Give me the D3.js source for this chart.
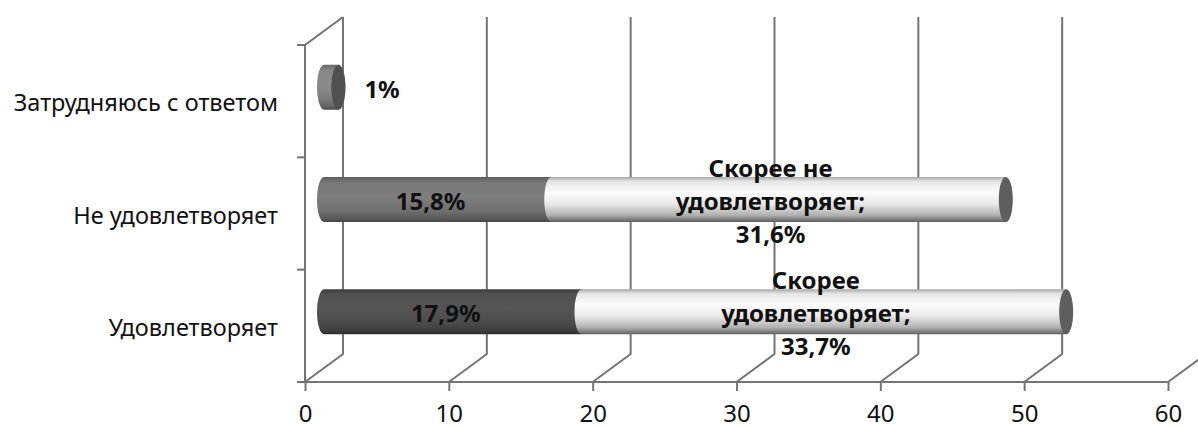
<!DOCTYPE html>
<html>
<head>
<meta charset="utf-8">
<script src="https://cdn.jsdelivr.net/npm/d3@7"></script>
<style>
  body { margin: 0; background: #fff; }
  svg { display: block; font-family: "Noto Sans", sans-serif; }
</style>
</head>
<body>
<svg id="chart"></svg>
<script>
// data, bottom to top
const categories = ["Удовлетворяет", "Не удовлетворяет", "Затрудняюсь с ответом"];
const firstValues = [17.9, 15.8, 1];
const secondValues = [33.7, 31.6, 0];
const firstLabels = ["17,9%", "15,8%", "1%"];
const secondLabels = [["Скорее", "удовлетворяет;", "33,7%"], ["Скорее не", "удовлетворяет;", "31,6%"], []];
const xTicks = [0, 10, 20, 30, 40, 50, 60];

const width = 1198;
const height = 428;
const depth = { dx: 38, dy: -28 };
const gridColor = "#747474";
const darkColors = ["#4b4b4b", "#6f6f6f", "#7c7c7c"];

const svg = d3.select("#chart")
    .attr("width", width)
    .attr("height", height);

const x = d3.scaleLinear().domain([0, 60]).range([305, 1168]);
const y = d3.scaleBand().domain(categories).range([382, 45]);

const defs = svg.append("defs");

function addGradient(id, base) {
    const c = d3.color(base);
    const g = defs.append("linearGradient").attr("id", id)
        .attr("x1", 0).attr("y1", 0).attr("x2", 0).attr("y2", 1);
    const stops = [
        [0, c.darker(0.5)],
        [0.12, c.brighter(0.2)],
        [0.45, c.brighter(0.35)],
        [0.75, c],
        [0.92, c.darker(0.6)],
        [1, c.darker(1.3)]
    ];
    stops.forEach(s => g.append("stop").attr("offset", s[0]).attr("stop-color", s[1]));
}
darkColors.forEach((c, i) => addGradient("dark" + i, c));

const lg = defs.append("linearGradient").attr("id", "light")
    .attr("x1", 0).attr("y1", 0).attr("x2", 0).attr("y2", 1);
[[0, "#a8a8a8"], [0.1, "#e6e6e6"], [0.35, "#fcfcfc"], [0.6, "#e8e8e8"], [0.85, "#b0b0b0"], [1, "#5e5e5e"]]
    .forEach(s => lg.append("stop").attr("offset", s[0]).attr("stop-color", s[1]));

// back grid lines with slanted floor
const grid = svg.append("g");
grid.selectAll("path")
    .data(xTicks)
    .enter().append("path")
    .attr("d", d => `M${x(d)},382 L${x(d) + depth.dx},${382 + depth.dy} L${x(d) + depth.dx},17`)
    .attr("fill", "none")
    .attr("stroke", gridColor)
    .attr("stroke-width", 2);

// left wall
grid.append("path")
    .attr("d", `M${x(0)},382 L${x(0)},45 L${x(0) + depth.dx},17`)
    .attr("fill", "none")
    .attr("stroke", gridColor)
    .attr("stroke-width", 2);

const bounds = categories.map(c => y(c)).concat([y(categories[0]) + y.bandwidth()]);
grid.selectAll("line.cat-tick")
    .data(bounds)
    .enter().append("line")
    .attr("class", "cat-tick")
    .attr("x1", x(0) - 8).attr("x2", x(0))
    .attr("y1", d => d).attr("y2", d => d)
    .attr("stroke", gridColor)
    .attr("stroke-width", 2);

// x axis
const xAxis = svg.append("g")
    .attr("transform", "translate(0,382)")
    .call(d3.axisBottom(x).tickValues(xTicks).tickSize(9).tickSizeOuter(0).tickPadding(14));
xAxis.select(".domain").attr("stroke", gridColor).attr("stroke-width", 2)
    .attr("d", `M${x(0) - 8},0H${x(60)}`);
xAxis.selectAll(".tick line").attr("stroke", gridColor).attr("stroke-width", 2);
xAxis.selectAll(".tick text")
    .attr("fill", "#111")
    .style("font-family", "Noto Sans")
    .style("font-size", "24px");

// category labels
svg.append("g").selectAll("text")
    .data(categories)
    .enter().append("text")
    .attr("x", 278)
    .attr("y", d => y(d) + y.bandwidth() / 2 + 4)
    .attr("text-anchor", "end")
    .attr("dominant-baseline", "middle")
    .attr("fill", "#111")
    .style("font-size", "23.5px")
    .text(d => d);

// cylinders
const ry = 22.5, rx = 7;
const xb = v => x(v) + depth.dx / 2;
function cylinder(a, b, cy) {
    return `M${a},${cy - ry} L${b},${cy - ry} A${rx},${ry} 0 0 1 ${b},${cy + ry} ` +
        `L${a},${cy + ry} A${rx},${ry} 0 0 1 ${a},${cy - ry} Z`;
}

const bars = svg.append("g");
categories.forEach((cat, i) => {
    const cy = y(cat) + y.bandwidth() / 2 + depth.dy / 2;
    const a = xb(0), b = xb(firstValues[i]), c = xb(firstValues[i] + secondValues[i]);
    bars.append("path").attr("d", cylinder(a, b, cy)).attr("fill", `url(#dark${i})`);
    if (secondValues[i] > 0) {
        bars.append("path").attr("d", cylinder(b, c, cy)).attr("fill", "url(#light)");
    }
    bars.append("ellipse")
        .attr("cx", c).attr("cy", cy).attr("rx", rx).attr("ry", ry)
        .attr("fill", secondValues[i] > 0 ? "#5e5e5e" : "#505050");
});

// value labels
const labels = svg.append("g")
    .attr("font-weight", "bold")
    .attr("fill", "#111")
    .style("font-size", "24px");

categories.forEach((cat, i) => {
    const cy = y(cat) + y.bandwidth() / 2 + depth.dy / 2;
    if (secondValues[i] > 0) {
        labels.append("text")
            .attr("x", xb(firstValues[i] / 2) - 7)
            .attr("y", cy + 10)
            .attr("text-anchor", "middle")
            .text(firstLabels[i]);
        const mid = xb(firstValues[i] + secondValues[i] / 2) - 8;
        labels.append("text")
            .attr("text-anchor", "middle")
            .selectAll("tspan")
            .data(secondLabels[i])
            .enter().append("tspan")
            .attr("x", mid)
            .attr("y", (d, k) => cy + 10 + (k - 1) * 33)
            .text(d => d);
    } else {
        labels.append("text")
            .attr("x", xb(firstValues[i]) + 26)
            .attr("y", cy + 11)
            .text(firstLabels[i]);
    }
});
</script>
</body>
</html>
